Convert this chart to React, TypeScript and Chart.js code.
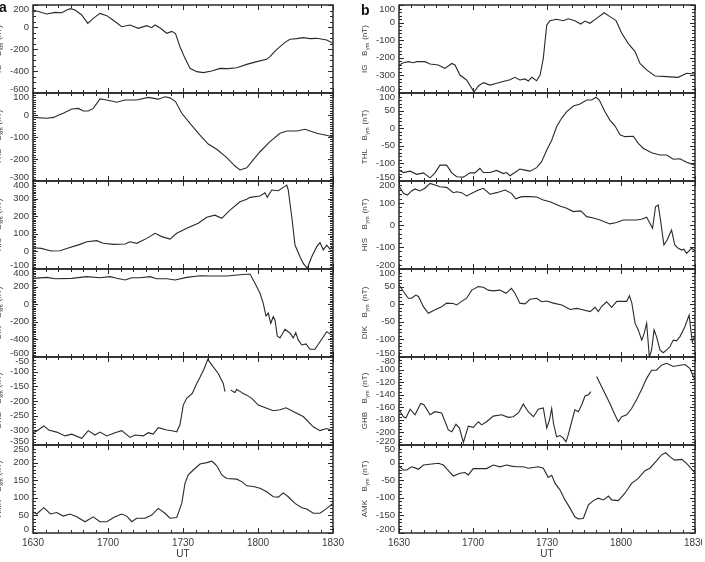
import React, { useEffect, useRef } from 'react';
import { Chart, registerables } from 'chart.js';
Chart.register(...registerables);
Chart.defaults.font.family = '"Liberation Sans", Arial, Helvetica, sans-serif';

// x axis: minutes after 16:30 UT
const tickTimes = [0, 30, 60, 90, 120];
const tickLabels = ['1630', '1700', '1730', '1800', '1830'];

// ---- column a : B_xm ----
const igXT = [0,5.5,8.8,11.5,13.5,15,16.8,19.5,21.9,24.1,26.8,29.5,32,35.5,38.8,42.1,45.5,47.5,48.8,51,53.5,55.5,57,58.8,60.8,62.8,65.5,68.1,71.5,74.8,78,81.5,85.5,89.5,93.5,94.8,96.8,98.8,100.8,102.8,105.5,108.1,110.8,113.5,117.5,120];
const igXV = [155,118,133,130,155,167,155,109,33,79,124,103,64,3,18,-12,12,-6,18,-12,-57,-40,-60,-179,-285,-376,-406,-415,-400,-376,-378,-370,-340,-315,-294,-270,-220,-179,-140,-112,-106,-97,-106,-103,-118,-148];

const thlXT = [0,5.5,8.3,10.3,12.1,15.5,18.1,20.1,22.1,24.1,26.8,29.5,33.5,36.8,41.5,46.1,50.1,52.8,54.8,57,59.5,62.8,66.8,70.1,73.5,77.5,80.8,82.8,85.5,87.5,90.8,94.8,98.8,101.5,105.5,108.8,113.5,120];
const thlXV = [-11,-15,-11,0,8,27,30,18,18,30,73,68,58,68,68,80,72,83,78,61,8,-38,-91,-132,-156,-194,-232,-250,-240,-212,-167,-121,-83,-73,-73,-65,-83,-99];

const hisXT = [0,3.3,7.3,10.8,13.5,18.8,21.5,25.5,28.1,32.1,36.8,38.8,41.5,45.5,48.8,51.5,54.8,57.5,61.5,66.1,69.5,72.8,75.5,78.8,82.8,85.5,86.8,90.8,92.8,93.7,95.5,98.1,100.1,101.5,102.1,103.5,104.8,106.8,108.1,109.7,111.5,113.5,114.8,116.1,117.5,118.8,120];
const hisXV = [21,17,2,4,17,40,55,61,46,40,42,55,46,74,103,84,70,103,131,160,194,206,188,235,282,296,307,315,333,307,349,345,364,377,349,197,36,-30,-68,-96,-30,27,50,9,36,13,31];

const dikXT = [0,5.5,9,15.5,21.5,26.8,30.8,33.5,36.8,39.5,42.8,46.8,49.5,53.5,56.8,61.5,66.8,70.8,77.5,82.8,86.8,88.8,90.8,92.1,93.2,94.1,95.1,96.1,96.8,97.7,98.8,100.8,102.8,104.1,105.1,106.1,107.5,109.2,110.8,112.8,114.8,117.5,120];
const dikXV = [294,305,290,294,313,301,313,294,275,301,301,313,290,290,275,305,324,320,320,335,343,237,124,10,-134,-100,-217,-142,-179,-361,-383,-285,-330,-383,-323,-406,-463,-451,-512,-512,-426,-312,-361];

const ghbXT = [0,1.5,4.3,6.3,9.5,12.8,15.5,19.5,22.1,24.8,26.8,29.5,32.8,35.5,38.8,40.8,44.1,46.1,48.1,50.1,53.5,56.1,57.5,58.8,60.1,61.5,63.7,65.5,66.8,68.5,69.9,71.5,74.1,76.1,76.8,78,79.1,80,80.8,81.5,82.1,83,83.9,85.5,87.5,90.1,93.5,96.1,98.8,101.2,104.1,108.1,112.1,114.8,117.5,120];
const ghbXV = [-308,-302,-285,-299,-306,-319,-313,-327,-301,-316,-306,-319,-308,-301,-324,-316,-319,-308,-313,-291,-299,-302,-305,-280,-214,-191,-174,-140,-119,-89,-58,-77,-106,-140,-168,null,-162,-168,-171,-160,-164,-168,-174,-180,-191,-214,-225,-233,-230,-223,-236,-253,-288,-301,-294,-301];

const amkXT = [0,1.5,4.3,7,9.5,12.1,14.8,17.5,20.8,24.1,26.8,29.5,32.8,35.5,37.5,39.5,41.5,44.8,47.5,50.1,52.8,54.8,57.5,59.5,60.8,62.1,64.1,66.8,69.5,71.5,72.8,73.7,75.5,77.5,81.5,83.5,85.5,88.1,90.8,93.5,96.1,98.1,100.1,102.1,104.8,107.5,109.5,112.1,114.8,117.5,120];
const amkXV = [60,54,72,54,58,48,54,46,32,46,32,32,46,54,48,32,42,42,51,70,56,42,44,84,141,165,179,196,200,204,196,189,165,155,153,146,134,132,127,117,103,102,114,103,84,72,68,56,56,70,84];

// ---- column b : B_ym ----
const igYT = [0,1.8,3.8,5.8,7.2,10.5,12.6,15.9,18.6,21.4,22.7,24.7,27.4,29.5,30.4,32.2,34.2,36.9,39.6,43,45,47,49,51.1,52.4,53.8,55.8,57.2,58.5,59.9,61.2,63.9,66.6,68.6,71.3,73.7,75.4,77.4,80.1,83.2,85.5,88,90.3,92.9,95.7,97.7,100.4,103.8,108.5,113.2,116.6,120];
const igYV = [-241,-228,-222,-228,-222,-222,-235,-241,-260,-232,-241,-298,-326,-373,-395,-360,-341,-355,-345,-332,-325,-311,-326,-320,-332,-311,-330,-298,-203,-14,11,19,11,22,11,-8,9,-4,24,56,34,11,-61,-118,-165,-232,-269,-303,-307,-311,-288,-292];

const thlYT = [0,1.8,4.5,7.2,9.9,12.6,14.6,16.6,19.3,21.4,23.4,26.1,28.8,30.8,32.8,34.2,36.9,39.6,42.3,43.6,45,47,49,51.1,53.1,55.8,57.8,59.9,61.9,63.9,65.9,68,70.7,73.4,76.1,78.1,79.9,81.2,83.5,85.5,87.6,89.6,91.6,95,97,99,102.4,105.8,108.5,111.2,113.9,116.6,120];
const thlYV = [-119,-126,-122,-131,-127,-141,-127,-105,-105,-127,-138,-139,-127,-127,-114,-126,-126,-120,-129,-126,-135,-126,-116,-119,-122,-112,-95,-62,-34,4,28,47,63,69,80,80,88,80,47,23,6,-19,-24,-23,-43,-57,-70,-76,-76,-88,-87,-97,-105];

const hisYT = [0,1.8,3.4,5.1,6.5,8.5,10.5,12.6,14.6,16.6,19.3,22,23.4,25.4,27.4,29.5,32.2,34.2,36.9,39.6,43,45.6,47.3,49.7,53.1,55.8,58.5,61.2,65.2,68,70.7,73.7,76.1,78.8,81.5,85.5,88.2,90.9,96.3,98.3,100.4,101.7,102.8,104,105.1,106,107.4,108.7,110.5,111.8,113.2,114.6,115.5,116.6,118.6,120];
const hisYV = [177,144,136,155,164,155,167,189,182,174,171,147,151,147,132,144,159,167,140,147,159,144,119,129,129,127,114,106,86,76,61,64,38,32,23,5,11,23,23,26,35,8,-15,83,91,23,-91,-68,-23,-91,-106,-114,-110,-129,-106,-117];

const dikYT = [0,1.8,3.8,5.1,6.8,7.9,9.9,11.9,14.6,17.3,19.3,22,23.4,25.4,27.4,29.5,32.2,34.2,36.2,38.2,40.9,43.4,45.6,47,49,51.1,53.1,55.8,57.8,59.9,62.6,66,69.4,72.1,74.1,77.5,79.5,80.8,82.2,84.2,86.2,88.3,91,92.3,93.4,94.4,95.7,97,98.4,99.4,100.4,101.5,102.4,103.4,104.4,105.8,107.1,108.5,109.8,111.2,112.5,113.9,115.9,117.6,118.9,120];
const dikYV = [55,36,17,17,26,22,-7,-26,-16,-7,3,2,-2,8,17,40,50,48,40,38,40,31,45,31,3,1,14,17,7,9,3,-2,-15,-12,-15,-21,-9,-21,-6,7,-9,8,8,8,24,3,-54,-73,-102,-83,-54,-151,-130,-73,-92,-130,-138,-130,-121,-102,-104,-92,-64,-31,-107,-88];

const ghbYT = [0,1.8,2.8,4.5,6.5,8.8,10.1,12.6,14.6,17.3,20,21.4,23.1,24.5,26.1,28.1,30.1,32.2,33.5,35.5,38.2,41.6,44.3,46.3,48.4,50.4,52.4,54.5,56.5,58.5,59.9,61,61.9,62.6,63.9,65.3,66.6,67.7,68.6,70,71.3,72.7,74.1,75.4,76.8,77.8,79,80.1,81.5,83.5,85.5,87.3,88.9,90.3,92.3,94.3,96.3,98.3,100.4,102.4,104.4,106.4,108.5,111.2,113.9,115.9,117.9,120];
const ghbYV = [-164,-175,-177,-163,-172,-154,-156,-172,-167,-169,-196,-199,-187,-193,-216,-190,-192,-183,-188,-183,-174,-172,-176,-175,-169,-155,-167,-175,-163,-161,-193,-180,-162,-185,-207,-205,-209,-215,-204,-183,-164,-167,-156,-142,-140,-135,null,-111,-122,-138,-154,-170,-183,-175,-172,-162,-148,-132,-114,-101,-101,-93,-90,-95,-93,-92,-98,-117];

const amkYT = [0,1.8,3.2,5.1,6.5,7.9,9.9,13.3,16,18,19.3,22,24.7,26.7,28.1,30.1,32.8,35.5,38.2,40.9,43.6,45.6,47.7,50.4,52.4,54.5,56.5,58.5,60.5,61.9,63.3,65.3,67.3,69.4,71.3,72.7,74.7,76.8,78.8,80.8,82.9,84.9,86.2,88.9,91.6,94.3,97,99.7,101.7,104.4,106.4,108.1,109.8,111.8,114.6,116.6,120];
const amkYV = [-10,-21,-21,-12,-15,-19,-7,-4,-2,-7,-17,-38,-30,-28,-35,-17,-17,-17,-7,-12,-7,-10,-12,-12,-16,-14,-12,-16,-42,-36,-59,-78,-106,-130,-154,-160,-159,-120,-108,-101,-106,-95,-106,-108,-87,-59,-45,-23,-16,5,22,28,17,7,9,-2,-29];

type Panel = { name: string; comp: string; t: number[]; v: (number | null)[]; min: number; max: number; step: number; minor: number };

const colA: Panel[] = [
  { name: 'IG', comp: 'xm', t: igXT, v: igXV, min: -600, max: 200, step: 200, minor: 4 },
  { name: 'THL', comp: 'xm', t: thlXT, v: thlXV, min: -300, max: 100, step: 100, minor: 10 },
  { name: 'HIS', comp: 'xm', t: hisXT, v: hisXV, min: -100, max: 400, step: 100, minor: 10 },
  { name: 'DIK', comp: 'xm', t: dikXT, v: dikXV, min: -600, max: 400, step: 200, minor: 10 },
  { name: 'GHB', comp: 'xm', t: ghbXT, v: ghbXV, min: -350, max: -50, step: 50, minor: 5 },
  { name: 'AMK', comp: 'xm', t: amkXT, v: amkXV, min: 0, max: 250, step: 50, minor: 5 },
];
const colB: Panel[] = [
  { name: 'IG', comp: 'ym', t: igYT, v: igYV, min: -400, max: 100, step: 100, minor: 5 },
  { name: 'THL', comp: 'ym', t: thlYT, v: thlYV, min: -150, max: 100, step: 50, minor: 5 },
  { name: 'HIS', comp: 'ym', t: hisYT, v: hisYV, min: -200, max: 200, step: 100, minor: 5 },
  { name: 'DIK', comp: 'ym', t: dikYT, v: dikYV, min: -150, max: 100, step: 50, minor: 5 },
  { name: 'GHB', comp: 'ym', t: ghbYT, v: ghbYV, min: -220, max: -80, step: 20, minor: 4 },
  { name: 'AMK', comp: 'ym', t: amkYT, v: amkYV, min: -200, max: 50, step: 50, minor: 5 },
];

const COLS = [
  { plotLeft: 33, plotRight: 333, canvasLeft: -20, canvasRight: 345 },
  { plotLeft: 399, plotRight: 695, canvasLeft: 345, canvasRight: 702 },
];
const PANEL_TOP = 5;
const PANEL_H = 88;
const PAD_T = 8;
const PAD_B = 8;
const XAXIS_H = 29;
const FONT = '"Liberation Sans", Arial, Helvetica, sans-serif';
const INK = '#2a2a2a';
const TEXT = '#3a3a3a';

const framePlugin = {
  id: 'frame',
  afterDatasetsDraw(chart: any, _args: any, opts: any) {
    const { ctx, chartArea } = chart;
    const { left, right, top, bottom } = chartArea;
    const xs = chart.scales.x;
    const ys = chart.scales.y;
    ctx.save();
    ctx.strokeStyle = INK;
    ctx.lineWidth = 1;
    ctx.beginPath();
    // x ticks on top and bottom (every 5 min, major every 30)
    for (let t = 0; t <= 120; t += 5) {
      const px = Math.round(xs.getPixelForValue(t)) + 0.5;
      const len = t % 30 === 0 ? 5 : 3;
      ctx.moveTo(px, top); ctx.lineTo(px, top + len);
      ctx.moveTo(px, bottom); ctx.lineTo(px, bottom - len);
    }
    // y ticks on left and right
    const minorStep = opts.step / opts.minor;
    const n = Math.round((opts.max - opts.min) / minorStep);
    for (let k = 0; k <= n; k++) {
      const val = opts.min + k * minorStep;
      const py = Math.round(ys.getPixelForValue(val)) + 0.5;
      const len = k % opts.minor === 0 ? 5 : 3;
      ctx.moveTo(left, py); ctx.lineTo(left + len, py);
      ctx.moveTo(right, py); ctx.lineTo(right - len, py);
    }
    ctx.stroke();
    ctx.lineWidth = 1.5;
    ctx.strokeRect(left, top, right - left, bottom - top);

    // rotated axis title with subscript
    const main = `8px ${FONT}`;
    const sub = `5.5px ${FONT}`;
    const parts = [
      { s: opts.name, f: main, dy: 0, gap: 8.5 },
      { s: 'B', f: main, dy: 0, gap: 0.5 },
      { s: opts.comp, f: sub, dy: 2.5, gap: 3 },
      { s: '(nT)', f: main, dy: 0, gap: 0 },
    ];
    let total = 0;
    const widths = parts.map((p, i) => {
      ctx.font = p.f;
      const w = ctx.measureText(p.s).width;
      total += w + (i < parts.length - 1 ? p.gap : 0);
      return w;
    });
    ctx.translate(left - 34, (top + bottom) / 2);
    ctx.rotate(-Math.PI / 2);
    ctx.fillStyle = TEXT;
    ctx.textBaseline = 'middle';
    ctx.textAlign = 'left';
    let cx = -total / 2;
    parts.forEach((p, i) => {
      ctx.font = p.f;
      ctx.fillText(p.s, cx, p.dy);
      cx += widths[i] + p.gap;
    });
    ctx.restore();
  },
};

function PanelChart({ p, col, row }: { p: Panel; col: number; row: number }) {
  const ref = useRef<HTMLCanvasElement>(null);
  const g = COLS[col];
  const isBottom = row === 5;
  const yW = g.plotLeft - g.canvasLeft;
  const padR = g.canvasRight - g.plotRight;
  const W = g.canvasRight - g.canvasLeft;
  const H = PAD_T + PANEL_H + (isBottom ? XAXIS_H : PAD_B);
  const top = PANEL_TOP + row * PANEL_H - PAD_T;

  useEffect(() => {
    const chart = new Chart(ref.current as HTMLCanvasElement, {
      type: 'line',
      data: {
        datasets: [
          {
            data: p.t.map((t, i) => ({ x: t, y: p.v[i] })) as any,
            borderColor: INK,
            borderWidth: 1.1,
            pointRadius: 0,
            tension: 0,
            spanGaps: false,
            fill: false,
          },
        ],
      },
      options: {
        animation: false,
        responsive: false,
        maintainAspectRatio: false,
        events: [],
        layout: { autoPadding: false, padding: { left: 0, right: padR, top: PAD_T, bottom: isBottom ? 0 : PAD_B } },
        plugins: {
          legend: { display: false },
          tooltip: { enabled: false },
          frame: { name: p.name, comp: p.comp, min: p.min, max: p.max, step: p.step, minor: p.minor },
        } as any,
        scales: {
          x: {
            type: 'linear',
            min: 0,
            max: 120,
            display: isBottom,
            grid: { display: false, drawTicks: false },
            border: { display: false },
            ticks: {
              stepSize: 30,
              autoSkip: false,
              maxRotation: 0,
              padding: 4,
              color: TEXT,
              font: { size: 10 },
              callback: (v: any) => {
                const i = tickTimes.indexOf(Number(v));
                return i >= 0 ? tickLabels[i] : '';
              },
            },
            title: { display: true, text: 'UT', color: TEXT, font: { size: 10 }, padding: { top: 0, bottom: 2 } },
            afterFit: (s: any) => {
              if (isBottom) s.height = XAXIS_H;
              s.paddingLeft = 0;
              s.paddingRight = 0;
            },
          },
          y: {
            type: 'linear',
            min: p.min,
            max: p.max,
            grid: { display: false, drawTicks: false },
            border: { display: false },
            ticks: {
              stepSize: p.step,
              autoSkip: false,
              padding: 4,
              color: TEXT,
              font: { size: 9.5, lineHeight: '8px' },
              callback: (v: any, i: number, ticks: any[]) => {
                const s = String(Math.round(Number(v)) || 0);
                if (i === 0) return [s, ''];
                if (i === ticks.length - 1) return ['', s];
                return s;
              },
            },
            afterFit: (s: any) => {
              s.width = yW;
              s.paddingTop = 0;
              s.paddingBottom = 0;
            },
          },
        } as any,
      },
      plugins: [framePlugin as any],
    });
    return () => chart.destroy();
  }, []);

  return (
    <canvas
      ref={ref}
      width={W}
      height={H}
      style={{ position: 'absolute', left: g.canvasLeft, top, width: W, height: H }}
    />
  );
}

export default function App() {
  return (
    <div style={{ position: 'absolute', left: 0, top: 0, width: 705, height: 562, overflow: 'hidden', background: '#fff' }}>
      {colA.map((p, i) => (
        <PanelChart key={'a' + i} p={p} col={0} row={i} />
      ))}
      {colB.map((p, i) => (
        <PanelChart key={'b' + i} p={p} col={1} row={i} />
      ))}
      <div style={{ position: 'absolute', left: -1, top: 0, font: `bold 14px ${FONT}`, lineHeight: '14px', color: '#111' }}>a</div>
      <div style={{ position: 'absolute', left: 361, top: 3, font: `bold 14px ${FONT}`, lineHeight: '14px', color: '#111' }}>b</div>
    </div>
  );
}
